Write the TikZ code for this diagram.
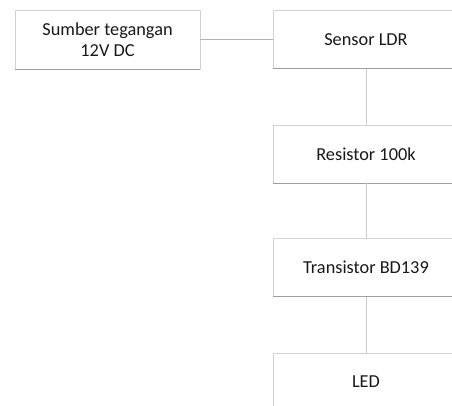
\documentclass[tikz,border=0pt]{standalone}
\usepackage{fontspec}
\setmainfont{Carlito}
\begin{document}
\begin{tikzpicture}[x=1pt,y=-1pt,
  blk/.style={draw=gray!35, line width=0.8pt, minimum width=186pt, minimum height=58pt, inner sep=0pt, align=center, font=\fontsize{18.3}{21.5}\selectfont, text=black!90},
  shade/.style={draw=gray!75, line width=0.9pt},
  conn/.style={draw=gray!60, line width=0.7pt}]
\useasboundingbox (0,0) rectangle (452,405);
\clip (0,0) rectangle (452,405);
\fill[white] (0,0) rectangle (452,405);
\node[blk, minimum width=185pt, minimum height=59pt] (src) at (107.5,39.5) {Sumber tegangan\\12V DC};
\node[blk] (ldr) at (366,39.5) {Sensor LDR};
\node[blk] (res) at (366,154) {Resistor 100k};
\node[blk] (tr) at (366,267.5) {Transistor BD139};
\node[blk] (led) at (366,382) {LED};
\foreach \n in {src,ldr,res,tr,led} \draw[shade] (\n.south west) -- (\n.south east);
\draw[conn] (src.east) -- (ldr.west);
\draw[conn, draw=gray!40] (ldr.south) -- (res.north);
\draw[conn, draw=gray!40] (res.south) -- (tr.north);
\draw[conn, draw=gray!40] (tr.south) -- (led.north);
\end{tikzpicture}
\end{document}
